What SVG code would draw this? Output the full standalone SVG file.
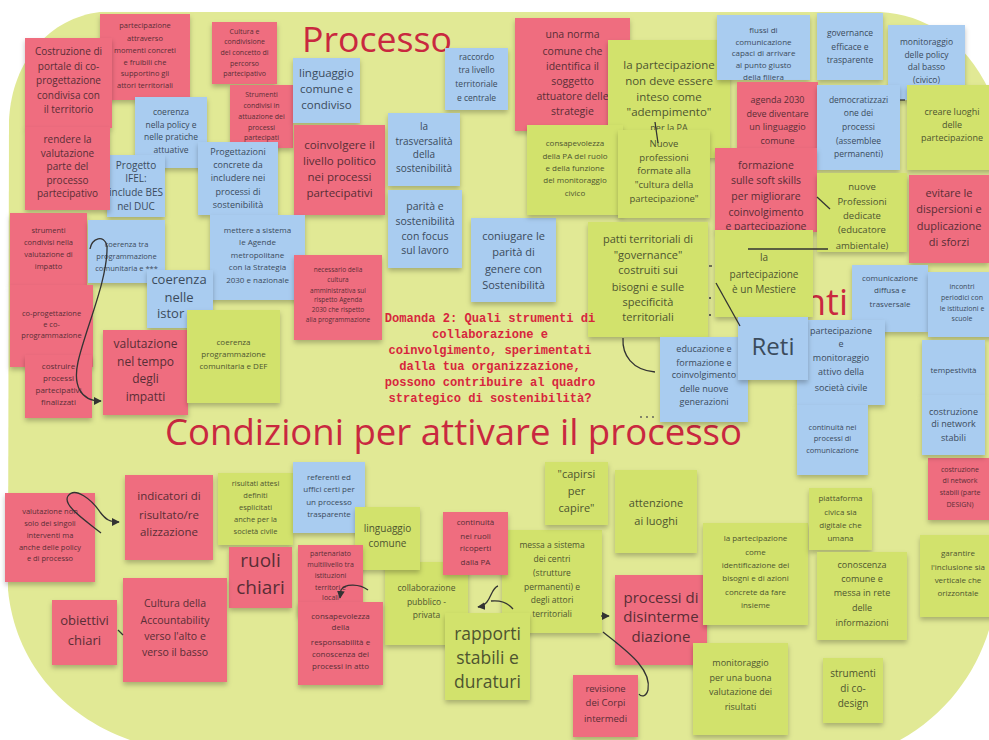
<svg xmlns="http://www.w3.org/2000/svg" width="989" height="740" viewBox="0 0 989 740">
<defs>
<filter id="sh" x="-10%" y="-10%" width="130%" height="140%"><feDropShadow dx="0" dy="3" stdDeviation="2.5" flood-color="#000" flood-opacity="0.25"/></filter>
<marker id="ah" viewBox="0 0 10 10" refX="9" refY="5" markerWidth="6" markerHeight="6" orient="auto-start-reverse"><path d="M0 0 L10 5 L0 10 Z" fill="#333"/></marker>
</defs>
<style>
.note rect{filter:url(#sh)}
.note text{font-family:"Open Sans","Liberation Sans",sans-serif;text-anchor:middle}
.red rect{fill:#ef6d7f}.red text{fill:#5a2e36}
.blue rect{fill:#a9ccf0}.blue text{fill:#3b4b5c}
.green rect{fill:#d2e26c}.green text{fill:#4e5530}
.title{font-family:"Open Sans","Liberation Sans",sans-serif;fill:#c9283f}
.q{font-family:"Liberation Mono","DejaVu Sans Mono",monospace;font-weight:bold;font-size:12.1px;fill:#d7263d;text-anchor:middle}
.c path,.c line{stroke:#333;stroke-width:1.3;fill:none}
</style>
<rect width="989" height="740" fill="#ffffff"/>
<path d="M100 12 L880 12 C925 14 965 40 989 90 L989 630 C975 675 945 715 900 740 L130 740 C60 715 15 660 8 590 L9 120 C12 60 50 18 100 12 Z" fill="#e1e995"/>
<text class="title" x="302" y="52" font-size="35" textLength="150" lengthAdjust="spacingAndGlyphs">Processo</text>
<text class="title" x="165" y="445" font-size="36" textLength="577" lengthAdjust="spacingAndGlyphs">Condizioni per attivare il processo</text>
<text class="title" x="848" y="315" font-size="36" text-anchor="end">nti</text>
<g id="notes">
<g id="n2" class="note red"><rect x="100" y="14" width="90" height="86"/><text font-size="7.5"><tspan x="145" y="28">partecipazione</tspan><tspan x="145" y="41">attraverso</tspan><tspan x="145" y="53">momenti concreti</tspan><tspan x="145" y="65">e fruibili che</tspan><tspan x="145" y="76">supportino gli</tspan><tspan x="145" y="88">attori territoriali</tspan></text></g>
<g id="n4" class="note blue"><rect x="135" y="97" width="72" height="71"/><text font-size="8.5"><tspan x="171" y="115">coerenza</tspan><tspan x="171" y="128">nella policy e</tspan><tspan x="171" y="140">nelle pratiche</tspan><tspan x="171" y="153">attuative</tspan></text></g>
<g id="n5" class="note blue"><rect x="107" y="155" width="58" height="62"/><text font-size="10"><tspan x="136" y="169">Progetto</tspan><tspan x="136" y="182">IFEL:</tspan><tspan x="136" y="196">include BES</tspan><tspan x="136" y="210">nel DUC</tspan></text></g>
<g id="n1" class="note red"><rect x="25" y="38" width="87" height="90"/><text font-size="10"><tspan x="68.5" y="55">Costruzione di</tspan><tspan x="68.5" y="70">portale di co-</tspan><tspan x="68.5" y="84">progettazione</tspan><tspan x="68.5" y="99">condivisa con</tspan><tspan x="68.5" y="113">il territorio</tspan></text></g>
<g id="n3" class="note red"><rect x="25" y="127" width="85" height="83"/><text font-size="10"><tspan x="67.5" y="143">rendere la</tspan><tspan x="67.5" y="157">valutazione</tspan><tspan x="67.5" y="170">parte del</tspan><tspan x="67.5" y="184">processo</tspan><tspan x="67.5" y="197">partecipativo</tspan></text></g>
<g id="n6" class="note red"><rect x="212" y="22" width="65" height="62"/><text font-size="7"><tspan x="244.5" y="34">Cultura e</tspan><tspan x="244.5" y="44">condivisione</tspan><tspan x="244.5" y="55">del concetto di</tspan><tspan x="244.5" y="66">percorso</tspan><tspan x="244.5" y="76">partecipativo</tspan></text></g>
<g id="n7" class="note red"><rect x="230" y="85" width="63" height="63"/><text font-size="7"><tspan x="261.5" y="97">Strumenti</tspan><tspan x="261.5" y="108">condivisi in</tspan><tspan x="261.5" y="119">attuazione dei</tspan><tspan x="261.5" y="130">processi</tspan><tspan x="261.5" y="140">partecipati</tspan></text></g>
<g id="n8" class="note blue"><rect x="198" y="142" width="80" height="73"/><text font-size="9"><tspan x="238" y="155">Progettazioni</tspan><tspan x="238" y="168">concrete da</tspan><tspan x="238" y="181">includere nei</tspan><tspan x="238" y="195">processi di</tspan><tspan x="238" y="208">sostenibilità</tspan></text></g>
<g id="n9" class="note blue"><rect x="293" y="58" width="67" height="65"/><text font-size="11.5"><tspan x="326.5" y="77">linguaggio</tspan><tspan x="326.5" y="93">comune e</tspan><tspan x="326.5" y="109">condiviso</tspan></text></g>
<g id="n10" class="note red"><rect x="294" y="125" width="91" height="90"/><text font-size="11.5"><tspan x="339.5" y="149">coinvolgere il</tspan><tspan x="339.5" y="165">livello politico</tspan><tspan x="339.5" y="181">nei processi</tspan><tspan x="339.5" y="197">partecipativi</tspan></text></g>
<g id="n11" class="note blue"><rect x="445" y="48" width="63" height="62"/><text font-size="8.5"><tspan x="476.5" y="60">raccordo</tspan><tspan x="476.5" y="73">tra livello</tspan><tspan x="476.5" y="87">territoriale</tspan><tspan x="476.5" y="101">e centrale</tspan></text></g>
<g id="n12" class="note blue"><rect x="388" y="113" width="72" height="73"/><text font-size="10"><tspan x="424" y="130">la</tspan><tspan x="424" y="145">trasversalità</tspan><tspan x="424" y="158">della</tspan><tspan x="424" y="172">sostenibilità</tspan></text></g>
<g id="n13" class="note blue"><rect x="388" y="190" width="74" height="78"/><text font-size="10.5"><tspan x="425" y="210">parità e</tspan><tspan x="425" y="225">sostenibilità</tspan><tspan x="425" y="240">con focus</tspan><tspan x="425" y="254">sul lavoro</tspan></text></g>
<g id="n14" class="note blue"><rect x="471" y="218" width="85" height="84"/><text font-size="11"><tspan x="513.5" y="240">coniugare le</tspan><tspan x="513.5" y="256">parità di</tspan><tspan x="513.5" y="273">genere con</tspan><tspan x="513.5" y="289">Sostenibilità</tspan></text></g>
<g id="n15" class="note red"><rect x="515" y="18" width="115" height="113"/><text font-size="10.5"><tspan x="572.5" y="38">una norma</tspan><tspan x="572.5" y="55">comune che</tspan><tspan x="572.5" y="70">identifica il</tspan><tspan x="572.5" y="85">soggetto</tspan><tspan x="572.5" y="100">attuatore delle</tspan><tspan x="572.5" y="115">strategie</tspan></text></g>
<g id="n16" class="note green"><rect x="608" y="40" width="122" height="118"/><text font-size="11.5"><tspan x="669" y="69">la partecipazione</tspan><tspan x="669" y="85">non deve essere</tspan><tspan x="669" y="101">inteso come</tspan><tspan x="669" y="116">"adempimento"</tspan><tspan x="669" y="131" font-size="9">per la PA</tspan></text></g>
<g id="n17" class="note green"><rect x="527" y="125" width="96" height="90"/><text font-size="8"><tspan x="575" y="146">consapevolezza</tspan><tspan x="575" y="159">della PA del ruolo</tspan><tspan x="575" y="171">e della funzione</tspan><tspan x="575" y="183">del monitoraggio</tspan><tspan x="575" y="196">civico</tspan></text></g>
<g id="n18" class="note green"><rect x="618" y="130" width="92" height="88"/><text font-size="9.5"><tspan x="664" y="147">Nuove</tspan><tspan x="664" y="161">professioni</tspan><tspan x="664" y="174">formate alla</tspan><tspan x="664" y="188">"cultura della</tspan><tspan x="664" y="202">partecipazione"</tspan></text></g>
<g id="n19" class="note green"><rect x="588" y="222" width="120" height="115"/><text font-size="11"><tspan x="648" y="243">patti territoriali di</tspan><tspan x="648" y="259">"governance"</tspan><tspan x="648" y="274">costruiti sui</tspan><tspan x="648" y="291">bisogni e sulle</tspan><tspan x="648" y="306">specificità</tspan><tspan x="648" y="321">territoriali</tspan></text></g>
<g id="n20" class="note blue"><rect x="717" y="15" width="93" height="65"/><text font-size="8"><tspan x="763.5" y="33">flussi di</tspan><tspan x="763.5" y="45">comunicazione</tspan><tspan x="763.5" y="56">capaci di arrivare</tspan><tspan x="763.5" y="68">al punto giusto</tspan><tspan x="763.5" y="80">della filiera</tspan></text></g>
<g id="n21" class="note blue"><rect x="817" y="13" width="66" height="67"/><text font-size="8.5"><tspan x="850" y="36">governance</tspan><tspan x="850" y="50">efficace e</tspan><tspan x="850" y="63">trasparente</tspan></text></g>
<g id="n22" class="note blue"><rect x="888" y="25" width="77" height="75"/><text font-size="8.5"><tspan x="926.5" y="45">monitoraggio</tspan><tspan x="926.5" y="58">delle policy</tspan><tspan x="926.5" y="70">dal basso</tspan><tspan x="926.5" y="83">(civico)</tspan></text></g>
<g id="n23" class="note red"><rect x="737" y="82" width="81" height="66"/><text font-size="9"><tspan x="777.5" y="103">agenda 2030</tspan><tspan x="777.5" y="117">deve diventare</tspan><tspan x="777.5" y="130">un linguaggio</tspan><tspan x="777.5" y="144">comune</tspan></text></g>
<g id="n24" class="note blue"><rect x="817" y="85" width="83" height="85"/><text font-size="8.5"><tspan x="858.5" y="103">democratizzazi</tspan><tspan x="858.5" y="116">one dei</tspan><tspan x="858.5" y="130">processi</tspan><tspan x="858.5" y="144">(assemblee</tspan><tspan x="858.5" y="157">permanenti)</tspan></text></g>
<g id="n25" class="note green"><rect x="907" y="85" width="90" height="85"/><text font-size="9"><tspan x="952" y="115">creare luoghi</tspan><tspan x="952" y="128">delle</tspan><tspan x="952" y="141">partecipazione</tspan></text></g>
<g id="n26" class="note red"><rect x="715" y="148" width="102" height="84"/><text font-size="10.5"><tspan x="766" y="169">formazione</tspan><tspan x="766" y="184">sulle soft skills</tspan><tspan x="766" y="200">per migliorare</tspan><tspan x="766" y="216">coinvolgimento</tspan><tspan x="766" y="230">e partecipazione</tspan></text></g>
<g id="n27" class="note green"><rect x="817" y="173" width="90" height="79"/><text font-size="9.5"><tspan x="862" y="190">nuove</tspan><tspan x="862" y="205">Professioni</tspan><tspan x="862" y="219">dedicate</tspan><tspan x="862" y="233">(educatore</tspan><tspan x="862" y="249">ambientale)</tspan></text></g>
<g id="n28" class="note red"><rect x="909" y="175" width="80" height="88"/><text font-size="11"><tspan x="949" y="197">evitare le</tspan><tspan x="949" y="213">dispersioni e</tspan><tspan x="949" y="230">duplicazione</tspan><tspan x="949" y="246">di sforzi</tspan></text></g>
<g id="n29" class="note green"><rect x="715" y="230" width="98" height="87"/><text font-size="10"><tspan x="764" y="261">la</tspan><tspan x="764" y="278">partecipazione</tspan><tspan x="764" y="293">è un Mestiere</tspan></text></g>
<g id="n30" class="note blue"><rect x="852" y="265" width="76" height="67"/><text font-size="8"><tspan x="890" y="281">comunicazione</tspan><tspan x="890" y="293">diffusa e</tspan><tspan x="890" y="307">trasversale</tspan></text></g>
<g id="n31" class="note blue"><rect x="928" y="272" width="68" height="65"/><text font-size="7"><tspan x="962" y="289">incontri</tspan><tspan x="962" y="300">periodici con</tspan><tspan x="962" y="311">le istituzioni e</tspan><tspan x="962" y="321">scuole</tspan></text></g>
<g id="n33" class="note blue"><rect x="797" y="320" width="88" height="85"/><text font-size="9"><tspan x="841" y="334">partecipazione</tspan><tspan x="841" y="347">e</tspan><tspan x="841" y="361">monitoraggio</tspan><tspan x="841" y="375">attivo della</tspan><tspan x="841" y="391">società civile</tspan></text></g>
<g id="n34" class="note blue"><rect x="660" y="337" width="88" height="85"/><text font-size="9"><tspan x="704" y="352">educazione e</tspan><tspan x="704" y="366">formazione e</tspan><tspan x="704" y="378">coinvolgimento</tspan><tspan x="704" y="392">delle nuove</tspan><tspan x="704" y="405">generazioni</tspan></text></g>
<g id="n32" class="note blue"><rect x="738" y="317" width="70" height="63"/><text font-size="24"><tspan x="773" y="355">Reti</tspan></text></g>
<g id="n35" class="note blue"><rect x="922" y="340" width="63" height="55"/><text font-size="8"><tspan x="953.5" y="373">tempestività</tspan></text></g>
<g id="n38" class="note red"><rect x="928" y="458" width="68" height="62"/><text font-size="7"><tspan x="960" y="472">costruzione</tspan><tspan x="960" y="483">di network</tspan><tspan x="960" y="495">stabili (parte</tspan><tspan x="960" y="507">DESIGN)</tspan></text></g>
<g id="n36" class="note blue"><rect x="922" y="395" width="63" height="60"/><text font-size="9"><tspan x="953.5" y="415">costruzione</tspan><tspan x="953.5" y="427">di network</tspan><tspan x="953.5" y="441">stabili</tspan></text></g>
<g id="n37" class="note blue"><rect x="797" y="405" width="71" height="70"/><text font-size="7.5"><tspan x="832.5" y="430">continuità nei</tspan><tspan x="832.5" y="441">processi di</tspan><tspan x="832.5" y="453">comunicazione</tspan></text></g>
<g id="n39" class="note red"><rect x="10" y="213" width="77" height="72"/><text font-size="7.5"><tspan x="48.5" y="233">strumenti</tspan><tspan x="48.5" y="245">condivisi nella</tspan><tspan x="48.5" y="257">valutazione di</tspan><tspan x="48.5" y="269">impatto</tspan></text></g>
<g id="n40" class="note blue"><rect x="88" y="220" width="77" height="63"/><text font-size="7.5"><tspan x="126.5" y="247">coerenza tra</tspan><tspan x="126.5" y="259">programmazione</tspan><tspan x="126.5" y="271">comunitaria e ***</tspan></text></g>
<g id="n41" class="note blue"><rect x="210" y="215" width="95" height="85"/><text font-size="8"><tspan x="257.5" y="233">mettere a sistema</tspan><tspan x="257.5" y="245">le Agende</tspan><tspan x="257.5" y="258">metropolitane</tspan><tspan x="257.5" y="270">con la Strategia</tspan><tspan x="257.5" y="283">2030 e nazionale</tspan></text></g>
<g id="n42" class="note blue"><rect x="147" y="270" width="66" height="58"/><text font-size="13"><tspan x="179" y="284">coerenza</tspan><tspan x="179" y="302">nelle</tspan><tspan x="157" y="318" text-anchor="start">istor</tspan></text></g>
<g id="n43" class="note red"><rect x="10" y="285" width="83" height="82"/><text font-size="7.5"><tspan x="51.5" y="316">co-progettazione</tspan><tspan x="51.5" y="327">e co-</tspan><tspan x="51.5" y="338">programmazione</tspan></text></g>
<g id="n44" class="note red"><rect x="25" y="355" width="67" height="63"/><text font-size="8"><tspan x="58.5" y="369">costruire</tspan><tspan x="58.5" y="381">processi</tspan><tspan x="58.5" y="393">partecipativi</tspan><tspan x="58.5" y="405">finalizzati</tspan></text></g>
<g id="n45" class="note red"><rect x="103" y="330" width="85" height="85"/><text font-size="12"><tspan x="145.5" y="348">valutazione</tspan><tspan x="145.5" y="366">nel tempo</tspan><tspan x="145.5" y="383">degli</tspan><tspan x="145.5" y="401">impatti</tspan></text></g>
<g id="n46" class="note green"><rect x="187" y="310" width="93" height="93"/><text font-size="8"><tspan x="233.5" y="345">coerenza</tspan><tspan x="233.5" y="357">programmazione</tspan><tspan x="233.5" y="369">comunitaria e DEF</tspan></text></g>
<g id="n47" class="note red"><rect x="294" y="255" width="88" height="85"/><text font-size="6.5"><tspan x="338" y="272">necessario della</tspan><tspan x="338" y="282">cultura</tspan><tspan x="338" y="293">amministrativa sul</tspan><tspan x="338" y="302">rispetto Agenda</tspan><tspan x="338" y="312">2030 che rispetto</tspan><tspan x="338" y="322">alla programmazione</tspan></text></g>
<g id="n48" class="note red"><rect x="5" y="493" width="90" height="89"/><text font-size="7.5"><tspan x="50" y="514">valutazione non</tspan><tspan x="50" y="526">solo dei singoli</tspan><tspan x="50" y="538">interventi ma</tspan><tspan x="50" y="550">anche delle policy</tspan><tspan x="50" y="561">e di processo</tspan></text></g>
<g id="n49" class="note red"><rect x="125" y="475" width="88" height="85"/><text font-size="11.5"><tspan x="169" y="500">indicatori di</tspan><tspan x="169" y="519">risultato/re</tspan><tspan x="169" y="536">alizzazione</tspan></text></g>
<g id="n50" class="note green"><rect x="218" y="473" width="75" height="72"/><text font-size="7.5"><tspan x="255.5" y="486">risultati attesi</tspan><tspan x="255.5" y="498">definiti</tspan><tspan x="255.5" y="510">esplicitati</tspan><tspan x="255.5" y="522">anche per la</tspan><tspan x="255.5" y="534">società civile</tspan></text></g>
<g id="n52" class="note red"><rect x="229" y="547" width="63" height="61"/><text font-size="19"><tspan x="260.5" y="567">ruoli</tspan><tspan x="260.5" y="594">chiari</tspan></text></g>
<g id="n51" class="note blue"><rect x="293" y="462" width="72" height="71"/><text font-size="8"><tspan x="329" y="480">referenti ed</tspan><tspan x="329" y="492">uffici certi per</tspan><tspan x="329" y="505">un processo</tspan><tspan x="329" y="517">trasparente</tspan></text></g>
<g id="n57" class="note green"><rect x="385" y="562" width="83" height="83"/><text font-size="8.5"><tspan x="426.5" y="591">collaborazione</tspan><tspan x="426.5" y="605">pubblico -</tspan><tspan x="426.5" y="618">privata</tspan></text></g>
<g id="n53" class="note green"><rect x="355" y="507" width="65" height="63"/><text font-size="10"><tspan x="387.5" y="532">linguaggio</tspan><tspan x="387.5" y="547">comune</tspan></text></g>
<g id="n54" class="note red"><rect x="298" y="545" width="65" height="70"/><text font-size="7"><tspan x="330.5" y="556">partenariato</tspan><tspan x="330.5" y="567">multilivello tra</tspan><tspan x="330.5" y="578">istituzioni</tspan><tspan x="330.5" y="590">territori e</tspan><tspan x="330.5" y="600">locali</tspan></text></g>
<g id="n55" class="note red"><rect x="298" y="602" width="85" height="83"/><text font-size="8"><tspan x="340.5" y="619">consapevolezza</tspan><tspan x="340.5" y="630">della</tspan><tspan x="340.5" y="645">responsabilità e</tspan><tspan x="340.5" y="657">conoscenza dei</tspan><tspan x="340.5" y="669">processi in atto</tspan></text></g>
<g id="n59" class="note green"><rect x="502" y="530" width="100" height="103"/><text font-size="8.5"><tspan x="552" y="548">messa a sistema</tspan><tspan x="552" y="562">dei centri</tspan><tspan x="552" y="576">(strutture</tspan><tspan x="552" y="590">permanenti) e</tspan><tspan x="552" y="603">degli attori</tspan><tspan x="552" y="617">territoriali</tspan></text></g>
<g id="n56" class="note red"><rect x="443" y="512" width="65" height="63"/><text font-size="8"><tspan x="475.5" y="525">continuità</tspan><tspan x="475.5" y="539">nei ruoli</tspan><tspan x="475.5" y="551">ricoperti</tspan><tspan x="475.5" y="565">dalla PA</tspan></text></g>
<g id="n58" class="note green"><rect x="445" y="613" width="85" height="87"/><text font-size="17.5"><tspan x="487.5" y="640">rapporti</tspan><tspan x="487.5" y="664">stabili e</tspan><tspan x="487.5" y="688">duraturi</tspan></text></g>
<g id="n60" class="note green"><rect x="545" y="462" width="63" height="63"/><text font-size="11"><tspan x="576.5" y="478">"capirsi</tspan><tspan x="576.5" y="495">per</tspan><tspan x="576.5" y="512">capire"</tspan></text></g>
<g id="n61" class="note green"><rect x="615" y="470" width="82" height="83"/><text font-size="11"><tspan x="656" y="507">attenzione</tspan><tspan x="656" y="525">ai luoghi</tspan></text></g>
<g id="n62" class="note red"><rect x="615" y="575" width="92" height="90"/><text font-size="15"><tspan x="661" y="603">processi di</tspan><tspan x="661" y="622">disinterme</tspan><tspan x="661" y="642">diazione</tspan></text></g>
<g id="n63" class="note red"><rect x="573" y="675" width="65" height="62"/><text font-size="9.5"><tspan x="605.5" y="692">revisione</tspan><tspan x="605.5" y="706">dei Corpi</tspan><tspan x="605.5" y="722">intermedi</tspan></text></g>
<g id="n64" class="note green"><rect x="703" y="523" width="105" height="102"/><text font-size="8"><tspan x="755.5" y="541">la partecipazione</tspan><tspan x="755.5" y="555">come</tspan><tspan x="755.5" y="568">identificazione dei</tspan><tspan x="755.5" y="581">bisogni e di azioni</tspan><tspan x="755.5" y="595">concrete da fare</tspan><tspan x="755.5" y="608">insieme</tspan></text></g>
<g id="n65" class="note green"><rect x="693" y="643" width="95" height="92"/><text font-size="9"><tspan x="740.5" y="666">monitoraggio</tspan><tspan x="740.5" y="681">per una buona</tspan><tspan x="740.5" y="695">valutazione dei</tspan><tspan x="740.5" y="710">risultati</tspan></text></g>
<g id="n66" class="note green"><rect x="809" y="488" width="63" height="62"/><text font-size="8"><tspan x="840.5" y="501">piattaforma</tspan><tspan x="840.5" y="515">civica sia</tspan><tspan x="840.5" y="528">digitale che</tspan><tspan x="840.5" y="541">umana</tspan></text></g>
<g id="n67" class="note green"><rect x="817" y="552" width="90" height="88"/><text font-size="9"><tspan x="862" y="568">conoscenza</tspan><tspan x="862" y="582">comune e</tspan><tspan x="862" y="596">messa in rete</tspan><tspan x="862" y="611">delle</tspan><tspan x="862" y="626">informazioni</tspan></text></g>
<g id="n68" class="note green"><rect x="920" y="535" width="76" height="82"/><text font-size="8"><tspan x="958" y="556">garantire</tspan><tspan x="958" y="570">l'inclusione sia</tspan><tspan x="958" y="583">verticale che</tspan><tspan x="958" y="596">orizzontale</tspan></text></g>
<g id="n69" class="note green"><rect x="823" y="658" width="60" height="65"/><text font-size="10"><tspan x="853" y="677">strumenti</tspan><tspan x="853" y="692">di co-</tspan><tspan x="853" y="707">design</tspan></text></g>
<g id="n70" class="note red"><rect x="52" y="600" width="65" height="65"/><text font-size="13"><tspan x="84.5" y="625">obiettivi</tspan><tspan x="84.5" y="645">chiari</tspan></text></g>
<g id="n71" class="note red"><rect x="123" y="578" width="104" height="104"/><text font-size="10.5"><tspan x="175" y="607">Cultura della</tspan><tspan x="175" y="624">Accountability</tspan><tspan x="175" y="640">verso l'alto e</tspan><tspan x="175" y="656">verso il basso</tspan></text></g>
</g>
<g id="question">
<text class="q" x="490" y="322">Domanda 2: Quali strumenti di</text>
<text class="q" x="490" y="338">collaborazione e</text>
<text class="q" x="490" y="354">coinvolgimento, sperimentati</text>
<text class="q" x="490" y="370">dalla tua organizzazione,</text>
<text class="q" x="490" y="386">possono contribuire al quadro</text>
<text class="q" x="490" y="402">strategico di sostenibilità?</text>
<circle cx="641" cy="417" r="0.9" fill="#555"/><circle cx="647" cy="417" r="0.9" fill="#555"/><circle cx="653" cy="417" r="0.9" fill="#555"/>
</g>
<g id="connectors" class="c">
<path d="M90 249 C92 238 104 234 107 246 C108 280 85 330 78 362 C73 385 80 401 101 401" marker-end="url(#ah)"/>
<path d="M101 533 C85 520 62 505 68 496 C75 486 92 500 100 512 C106 520 110 522 119 522" marker-end="url(#ah)"/>
<line x1="118" y1="630" x2="123" y2="635"/>
<path d="M368 590 C360 584 345 583 341 590 L340 598" marker-end="url(#ah)"/>
<path d="M498 586 C490 588 492 605 478 607" marker-end="url(#ah)"/>
<path d="M491 601 C500 600 508 603 513 609"/>
<path d="M601 616 L609 616" marker-end="url(#ah)"/>
<path d="M603 632 C625 650 652 668 648 690 C646 697 641 697 639 694"/>
<path d="M623 338 C622 355 632 370 655 372"/>
<path d="M716 283 L740 326"/>
<line x1="655" y1="122" x2="658" y2="143"/>
<line x1="817" y1="197" x2="830" y2="209"/>
<line x1="748" y1="249" x2="828" y2="249"/>
<line x1="900" y1="100" x2="905" y2="100"/>
<line x1="709" y1="266" x2="712" y2="266"/>
<line x1="709" y1="298" x2="711" y2="298"/>
<line x1="709" y1="315" x2="711" y2="315"/>
</g>
</svg>
